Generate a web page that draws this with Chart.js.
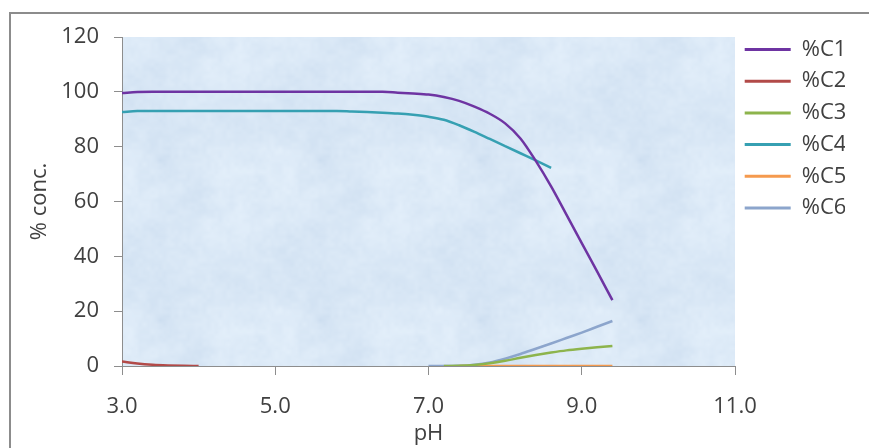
<!DOCTYPE html>
<html>
<head>
<meta charset="utf-8">
<script src="https://cdn.jsdelivr.net/npm/chart.js@4.4.1/dist/chart.umd.min.js"></script>
<style>
  body { margin: 0; background: #fff; }
</style>
</head>
<body>
<canvas id="myChart" width="869" height="448"></canvas>
<script>
// pH steps and % concentration of each species (null = not computed)
const pH = [3.0, 3.2, 3.4, 3.6, 3.8, 4.0, 4.2, 4.4, 4.6, 4.8, 5.0, 5.2, 5.4, 5.6, 5.8, 6.0, 6.2,
            6.4, 6.6, 6.8, 7.0, 7.2, 7.4, 7.6, 7.8, 8.0, 8.2, 8.4, 8.6, 8.8, 9.0, 9.2, 9.4];

const c1 = [99.6, 99.9, 100, 100, 100, 100, 100, 100, 100, 100, 100, 100, 100, 100, 100, 100, 100,
            100, 99.7, 99.4, 99.0, 98.1, 96.7, 94.6, 92.0, 88.5, 83.0, 74.8, 65.5, 55.2, 44.8, 34.5, 24.0];
const c2 = [1.6, 0.9, 0.45, 0.2, 0.05, 0, null, null, null, null, null, null, null, null, null, null, null,
            null, null, null, null, null, null, null, null, null, null, null, null, null, null, null, null];
const c3 = [null, null, null, null, null, null, null, null, null, null, null, null, null, null, null, null, null,
            null, null, null, null, 0, 0.1, 0.4, 1.0, 1.9, 3.0, 4.0, 4.9, 5.7, 6.3, 6.8, 7.3];
const c4 = [92.6, 93.0, 93.0, 93.0, 93.0, 93.0, 93.0, 93.0, 93.0, 93.0, 93.0, 93.0, 93.0, 93.0, 93.0, 92.8, 92.6,
            92.4, 92.1, 91.6, 90.9, 89.8, 87.8, 85.4, 82.8, 80.2, 77.6, 75.0, 72.3, null, null, null, null];
const c5 = [null, null, null, null, null, null, null, null, null, null, null, null, null, null, null, null, null,
            null, null, null, null, null, 0, 0, 0, 0, 0, 0, 0, 0, 0, 0, 0];
const c6 = [null, null, null, null, null, null, null, null, null, null, null, null, null, null, null, null, null,
            null, null, null, 0, 0, 0.1, 0.5, 1.3, 2.7, 4.4, 6.3, 8.2, 10.2, 12.2, 14.3, 16.4];

const seriesNames = ['%C1', '%C2', '%C3', '%C4', '%C5', '%C6'];
const seriesColors = ['#6e34a2', '#b24a48', '#8db44c', '#36a0b2', '#f59a4e', '#8ca5cc'];
const xTicks = [3, 5, 7, 9, 11];
const yTicks = [0, 20, 40, 60, 80, 100, 120];

function points(vals) {
    const out = [];
    vals.forEach((v, i) => { if (v !== null) out.push({x: pH[i], y: v}); });
    return out;
}

const FONT = "'Open Sans', sans-serif";
Chart.defaults.font.family = FONT;
Chart.defaults.color = '#404040';

// mottled light blue paper for the plot area (fixed hash noise, same every load)
function paperTile() {
    const size = 160;
    const tile = document.createElement('canvas');
    tile.width = tile.height = size;
    const g = tile.getContext('2d');
    const img = g.createImageData(size, size);
    const hash = (x, y) => {
        const s = Math.sin(x * 127.1 + y * 311.7) * 43758.5453;
        return s - Math.floor(s);
    };
    const smooth = (x, y, cell) => {
        const gx = x / cell, gy = y / cell;
        const x0 = Math.floor(gx), y0 = Math.floor(gy);
        const fx = gx - x0, fy = gy - y0;
        const n = size / cell;
        const h = (i, j) => hash(((x0 + i) % n + n) % n, ((y0 + j) % n + n) % n);
        const a = h(0, 0) + (h(1, 0) - h(0, 0)) * fx;
        const b = h(0, 1) + (h(1, 1) - h(0, 1)) * fx;
        return a + (b - a) * fy;
    };
    for (let y = 0; y < size; y++) {
        for (let x = 0; x < size; x++) {
            const v = 0.5 * smooth(x, y, 32) + 0.3 * smooth(x, y, 10) + 0.2 * smooth(x, y, 4) - 0.5;
            const k = (y * size + x) * 4;
            img.data[k] = 218 + v * 26;
            img.data[k + 1] = 232 + v * 20;
            img.data[k + 2] = 246 + v * 12;
            img.data[k + 3] = 255;
        }
    }
    g.putImageData(img, 0, 0);
    return tile;
}
const paper = paperTile();

// white page, grey frame and the plot area fill
const frame = {
    id: 'frame',
    beforeDraw(chart) {
        const {ctx, chartArea: a} = chart;
        ctx.save();
        ctx.fillStyle = '#fff';
        ctx.fillRect(0, 0, chart.width, chart.height);
        ctx.strokeStyle = '#8c8c8c';
        ctx.lineWidth = 2;
        ctx.beginPath();
        ctx.moveTo(10, chart.height);
        ctx.lineTo(10, 13);
        ctx.lineTo(chart.width, 13);
        ctx.stroke();
        ctx.fillStyle = ctx.createPattern(paper, 'repeat');
        ctx.fillRect(a.left, a.top, a.right - a.left, a.bottom - a.top);
        ctx.restore();
    }
};

const ctx = document.getElementById('myChart').getContext('2d');
const myChart = new Chart(ctx, {
    type: 'line',
    data: {
        datasets: [c1, c2, c3, c4, c5, c6].map((vals, i) => ({
            label: seriesNames[i],
            data: points(vals),
            borderColor: seriesColors[i],
            backgroundColor: seriesColors[i],
            borderWidth: 2.5,
            pointRadius: 0,
            cubicInterpolationMode: 'monotone',
            fill: false
        }))
    },
    options: {
        responsive: false,
        animation: false,
        layout: { padding: { top: 28.8, right: 24, bottom: 0, left: 0 } },
        plugins: {
            tooltip: { enabled: false },
            legend: {
                position: 'right',
                align: 'start',
                maxWidth: 110,
                labels: {
                    boxWidth: 46,
                    boxHeight: 3,
                    padding: 9.7,
                    color: '#404040',
                    font: { size: 22 },
                    generateLabels(chart) {
                        return Chart.defaults.plugins.legend.labels.generateLabels(chart).map(l => {
                            l.lineWidth = 0;
                            l.fillStyle = l.strokeStyle;
                            return l;
                        });
                    }
                }
            }
        },
        scales: {
            x: {
                type: 'linear',
                min: 3,
                max: 11,
                afterFit(scale) { scale.height = 82; },
                afterBuildTicks(scale) { scale.ticks = xTicks.map(v => ({value: v})); },
                border: { color: '#8d8d8d', width: 1 },
                grid: { drawOnChartArea: false, tickLength: 9, tickColor: '#8d8d8d' },
                ticks: {
                    padding: 19,
                    font: { size: 22 },
                    callback: v => v.toFixed(1)
                },
                title: {
                    display: true,
                    text: 'pH',
                    font: { size: 22 },
                    padding: { top: 0, bottom: 1 }
                }
            },
            y: {
                min: 0,
                max: 120,
                afterFit(scale) { scale.width = 122; },
                afterBuildTicks(scale) { scale.ticks = yTicks.map(v => ({value: v})); },
                border: { color: '#8d8d8d', width: 1 },
                grid: { drawOnChartArea: false, tickLength: 8, tickColor: '#8d8d8d' },
                ticks: {
                    padding: 15,
                    // tall line box keeps the plot top at the 120 mark
                    font: { size: 22, lineHeight: 2 }
                },
                title: {
                    display: true,
                    text: '% conc.',
                    font: { size: 22 },
                    padding: { top: 27, bottom: 0 }
                }
            }
        }
    },
    plugins: [frame]
});
</script>
</body>
</html>
